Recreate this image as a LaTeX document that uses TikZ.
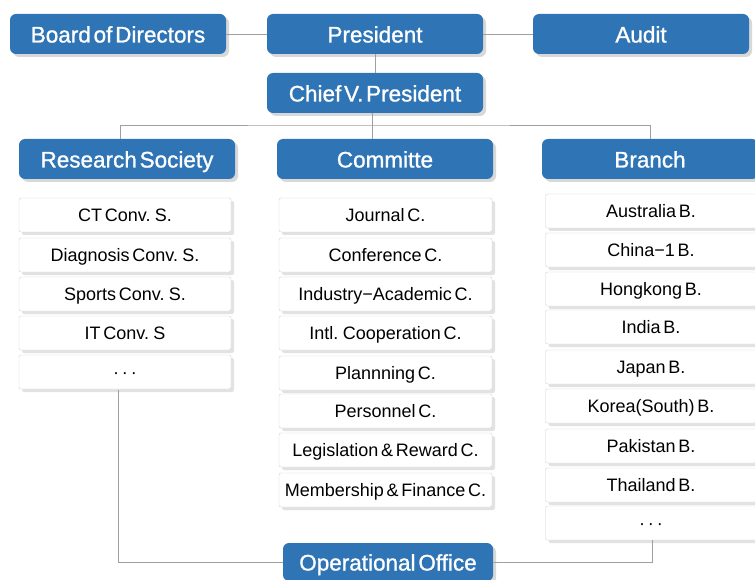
\documentclass[tikz,border=0pt]{standalone}
\usepackage{fontspec}
\setmainfont{Liberation Sans}[WordSpace=0.55]
\newfontfamily\headfont{Liberation Sans}[WordSpace=0.45, FakeBold=1.1]
\usetikzlibrary{positioning}
\usetikzlibrary{shadows}
\definecolor{headblue}{HTML}{2F74B5}
\tikzset{
    headnode/.style = {rectangle, rounded corners=6pt, fill=headblue, text=white, inner sep=0pt, minimum width=216pt, minimum height=40pt, text height=19pt, text depth=2pt, font=\headfont\fontsize{22.5}{24}\selectfont, drop shadow={shadow xshift=3pt, shadow yshift=-3pt, fill=gray!60}},
    cellnode/.style = {rectangle, rounded corners=2pt, draw=gray!35, fill=white, inner sep=0pt, minimum height=34pt, text height=15pt, text depth=1.5pt, font=\fontsize{18}{20}\selectfont, drop shadow={shadow xshift=3pt, shadow yshift=-3pt, fill=gray!45}},
    rescell/.style = {cellnode, minimum width=212pt},
    comcell/.style = {cellnode, minimum width=213pt},
    brcell/.style = {cellnode, minimum width=211pt},
    edgel/.style = {draw=gray!75, line width=0.8pt},
}
\newcommand{\mdots}{\textperiodcentered\,\textperiodcentered\,\textperiodcentered}
\begin{document}
\begin{tikzpicture}[x=1pt, y=-1pt]
  \useasboundingbox (0,0) rectangle (755,580);

  % top level
  \node[headnode] (board) at (118,34) {Board of Directors};
  \node[headnode] (pres) at (375,34) {President};
  \node[headnode] (audit) at (641,34) {Audit};
  \node[headnode] (cvp) at (375,93) {Chief V. President};

  % second level
  \node[headnode] (res) at (127,159) {Research Society};
  \node[headnode] (comm) at (385,159) {Committe};
  \node[headnode] (branch) at (650,159) {Branch};

  % research society
  \node[rescell] (ct) at (125,215) {CT Conv. S.};
  \node[rescell] (diag) at (125,255) {Diagnosis Conv. S.};
  \node[rescell] (sport) at (125,294) {Sports Conv. S.};
  \node[rescell] (itc) at (125,333) {IT Conv. S};
  \node[rescell] (resdots) at (125,372) {\mdots};

  % committe
  \node[comcell] (journal) at (385.5,215) {Journal C.};
  \node[comcell] (conf) at (385.5,255) {Conference C.};
  \node[comcell] (indus) at (385.5,294) {Industry−Academic C.};
  \node[comcell] (intl) at (385.5,333) {Intl. Cooperation C.};
  \node[comcell] (plan) at (385.5,373) {Plannning C.};
  \node[comcell] (pers) at (385.5,411) {Personnel C.};
  \node[comcell] (legis) at (385.5,450) {Legislation \& Reward C.};
  \node[comcell] (member) at (385.5,490) {Membership \& Finance C.};

  % branch
  \node[brcell] (austr) at (651,211) {Australia B.};
  \node[brcell] (china) at (651,250) {China−1 B.};
  \node[brcell] (hong) at (651,289) {Hongkong B.};
  \node[brcell] (india) at (651,327) {India B.};
  \node[brcell] (japan) at (651,367) {Japan B.};
  \node[brcell] (korea) at (651,406) {Korea(South) B.};
  \node[brcell] (pak) at (651,446) {Pakistan B.};
  \node[brcell] (thai) at (651,485) {Thailand B.};
  \node[brcell] (brdots) at (651,523) {\mdots};

  % office
  \node[headnode, minimum width=210pt, minimum height=38pt] (office) at (388,562) {Operational Office};

  \coordinate (bus) at (372,125);
  \coordinate (resdown) at (118,390);
  \coordinate (brdown) at (652,540);

  \draw[edgel] (board) -- (pres);
  \draw[edgel] (pres) -- (audit);
  \draw[edgel] (pres) -- (cvp);
  \draw[edgel] (cvp.south -| bus) -- (comm.north -| bus);
  \draw[edgel] (res.north -| 120,0) |- (bus) -| (branch.north);
  \draw[edgel] (resdown) |- (office.west);
  \draw[edgel] (office.east) -| (brdown);
\end{tikzpicture}
\end{document}
